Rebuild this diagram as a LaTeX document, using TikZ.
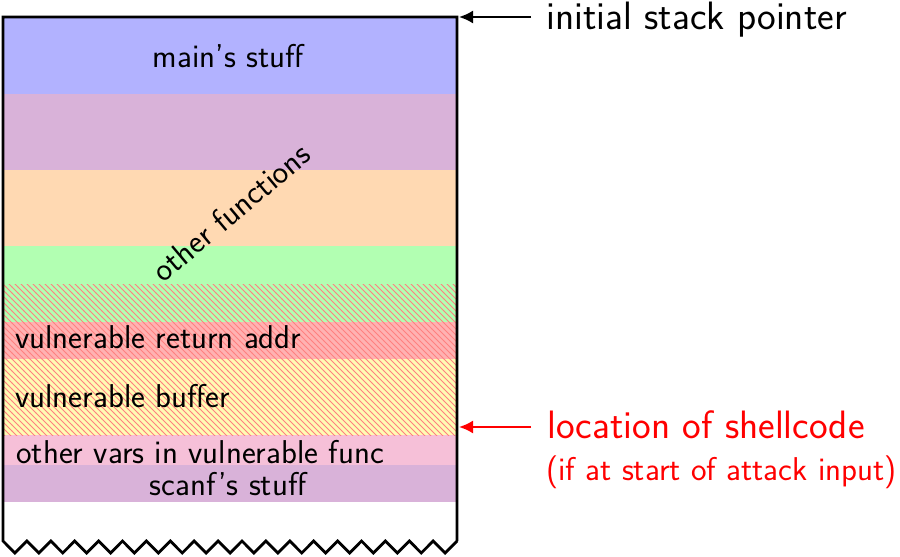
\documentclass[tikz,border=0pt]{standalone}
\usetikzlibrary{patterns,arrows.meta}
\definecolor{pinkvars}{RGB}{246,192,216}
\begin{document}
\begin{tikzpicture}[x=0.5pt,y=-0.5pt,
  font=\sffamily\fontsize{16.5}{19}\selectfont,
  hatch/.style={pattern=north west lines, pattern color=red!50},
  lbl/.style={inner sep=0pt, anchor=base west},
  clbl/.style={inner sep=0pt, anchor=base},
  biglbl/.style={inner sep=0pt, anchor=base west, font=\sffamily\fontsize{19.8}{23}\selectfont},
  ptr/.style={-{Latex[length=7pt,width=6.5pt]}, line width=1pt},
  outline/.style={line width=1.4pt, line join=miter}]
\useasboundingbox (0,0) rectangle (900,557);
% bands
\fill[blue!30]   (3,17)  rectangle (457,94);
\fill[violet!30] (3,94)  rectangle (457,170);
\fill[orange!30] (3,170) rectangle (457,246);
\fill[green!30]  (3,246) rectangle (457,322);
\fill[red!30]    (3,322) rectangle (457,359);
\fill[yellow!30] (3,359) rectangle (457,435);
\fill[pinkvars]  (3,435) rectangle (457,465);
\fill[violet!30] (3,465) rectangle (457,502);
\fill[hatch]     (3,284) rectangle (457,435);
% labels inside
\node[clbl] (main) at (228,67) {main's stuff};
\node[rotate=40, inner sep=0pt] (other) at (231,212) {other functions};
\node[lbl] (ret) at (15,348) {vulnerable return addr};
\node[lbl] (buf) at (15,407) {vulnerable buffer};
\node[lbl] (vars) at (16,463) {other vars in vulnerable func};
\node[clbl] (scanf) at (228,495) {scanf's stuff};
% outline with zigzag bottom
\draw[outline] (457,541) -- (457,17) -- (3,17) -- (3,541)
  \foreach \i in {0,...,18} { -- ({3+23.9*\i+11.95},553) -- ({3+23.9*(\i+1)},541) };
% pointers
\node[biglbl] (isp) at (546,29) {initial stack pointer};
\node[biglbl,text=red] (loc) at (547,438) {location of shellcode};
\node[lbl,text=red] (cond) at (546,480) {(if at start of attack input)};
\coordinate (topin) at (459,17);
\coordinate (ispfrom) at (531,17);
\coordinate (shellin) at (459,427);
\coordinate (locfrom) at (531,427);
\draw[ptr] (ispfrom) -- (topin);
\draw[ptr,red] (locfrom) -- (shellin);
\end{tikzpicture}
\end{document}
